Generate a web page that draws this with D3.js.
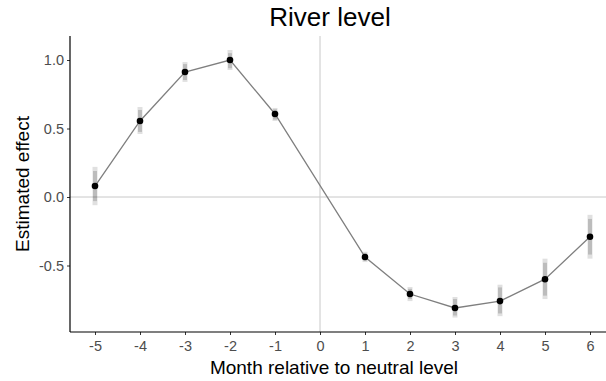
<!DOCTYPE html>
<html>
<head>
<meta charset="utf-8">
<script src="https://cdn.jsdelivr.net/npm/d3@7"></script>
<style>
  html, body { margin: 0; padding: 0; background: #fff; }
  svg { display: block; font-family: "Liberation Sans", Arial, sans-serif; }
</style>
</head>
<body>
<svg id="chart" width="606" height="381"></svg>
<script>
const months   = [-5, -4, -3, -2, -1, 1, 2, 3, 4, 5, 6];
const estimate = [0.08, 0.555, 0.912, 1.0, 0.606, -0.438, -0.708, -0.81, -0.76, -0.60, -0.29];
const outerLo  = [-0.06, 0.46, 0.84, 0.927, 0.555, -0.475, -0.76, -0.88, -0.87, -0.745, -0.45];
const outerHi  = [0.22, 0.657, 0.985, 1.073, 0.65, -0.40, -0.657, -0.73, -0.64, -0.45, -0.13];
const innerLo  = [-0.03, 0.475, 0.854, 0.94, 0.565, -0.465, -0.745, -0.865, -0.85, -0.72, -0.42];
const innerHi  = [0.19, 0.635, 0.97, 1.05, 0.64, -0.41, -0.67, -0.745, -0.66, -0.48, -0.16];
const xTicks = [-5, -4, -3, -2, -1, 0, 1, 2, 3, 4, 5, 6];
const yTicks = [-0.5, 0.0, 0.5, 1.0];
const title = "River level";
const xTitle = "Month relative to neutral level";
const yTitle = "Estimated effect";

const svg = d3.select("#chart");
const panel = {left: 70, right: 606, top: 36, bottom: 332};

const x = d3.scaleLinear().domain([-5, 6]).range([95, 590]);
const y = d3.scaleLinear().domain([0, 1]).range([197, 60]);

const data = months.map((m, i) => ({m, v: estimate[i], ol: outerLo[i], oh: outerHi[i], il: innerLo[i], ih: innerHi[i]}));

// reference lines
svg.append("line").attr("x1", x(0)).attr("x2", x(0)).attr("y1", panel.top).attr("y2", panel.bottom)
  .attr("stroke", "#c8c8c8").attr("stroke-width", 1);
svg.append("line").attr("x1", panel.left).attr("x2", panel.right).attr("y1", y(0)).attr("y2", y(0))
  .attr("stroke", "#c8c8c8").attr("stroke-width", 1);

// error bars
svg.append("g").selectAll("line").data(data).join("line")
  .attr("x1", d => x(d.m)).attr("x2", d => x(d.m))
  .attr("y1", d => y(d.ol)).attr("y2", d => y(d.oh))
  .attr("stroke", "#000").attr("stroke-opacity", 0.12).attr("stroke-width", 5);
svg.append("g").selectAll("line").data(data).join("line")
  .attr("x1", d => x(d.m)).attr("x2", d => x(d.m))
  .attr("y1", d => y(d.il)).attr("y2", d => y(d.ih))
  .attr("stroke", "#000").attr("stroke-opacity", 0.16).attr("stroke-width", 4);

// line
svg.append("path").datum(data)
  .attr("d", d3.line().x(d => x(d.m)).y(d => y(d.v)))
  .attr("fill", "none").attr("stroke", "#7f7f7f").attr("stroke-width", 1.3);

// points
svg.append("g").selectAll("circle").data(data).join("circle")
  .attr("cx", d => x(d.m)).attr("cy", d => y(d.v)).attr("r", 3.3).attr("fill", "#000");

// axes
const xAxis = svg.append("g").attr("transform", `translate(0,${panel.bottom})`)
  .call(d3.axisBottom(x).tickValues(xTicks).tickFormat(d3.format("d")).tickSize(3).tickSizeOuter(0));
xAxis.select(".domain").remove();
xAxis.append("line").attr("x1", panel.left).attr("x2", panel.right).attr("stroke", "#000").attr("stroke-width", 1.2);
xAxis.selectAll(".tick line").attr("stroke", "#333");
xAxis.selectAll(".tick text").attr("fill", "#4d4d4d").attr("font-size", 14.5).attr("dy", "0.9em")
  .text(d => d < 0 ? "-" + Math.abs(d) : d);

const yAxis = svg.append("g").attr("transform", `translate(${panel.left},0)`)
  .call(d3.axisLeft(y).tickValues(yTicks).tickFormat(d3.format(".1f")).tickSize(3).tickSizeOuter(0));
yAxis.select(".domain").remove();
yAxis.append("line").attr("y1", panel.top).attr("y2", panel.bottom).attr("stroke", "#000").attr("stroke-width", 1.2);
yAxis.selectAll(".tick line").attr("stroke", "#333");
yAxis.selectAll(".tick text").attr("fill", "#4d4d4d").attr("font-size", 14.5)
  .text(d => d < 0 ? "-" + d3.format(".1f")(Math.abs(d)) : d3.format(".1f")(d));

// titles
svg.append("text").attr("x", 330).attr("y", 26).attr("text-anchor", "middle")
  .attr("font-size", 26).attr("fill", "#000").text(title);
svg.append("text").attr("x", 334).attr("y", 374).attr("text-anchor", "middle")
  .attr("font-size", 19).attr("fill", "#000").text(xTitle);
svg.append("text").attr("transform", `translate(29,${(panel.top + panel.bottom) / 2}) rotate(-90)`)
  .attr("text-anchor", "middle").attr("font-size", 19).attr("fill", "#000").text(yTitle);
</script>
</body>
</html>
